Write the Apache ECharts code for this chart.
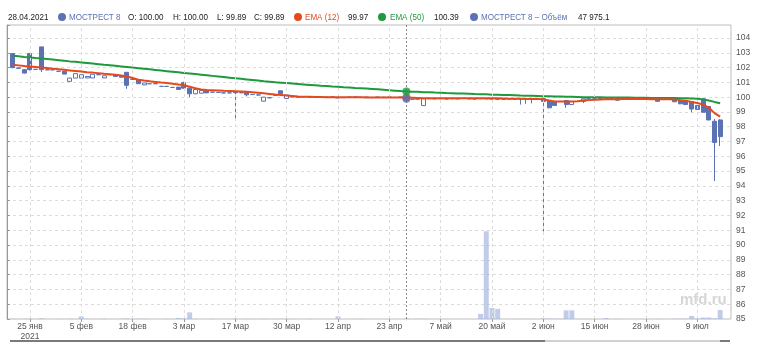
<!DOCTYPE html>
<html><head><meta charset="utf-8">
<script src="https://cdn.jsdelivr.net/npm/echarts@6/dist/echarts.min.js"></script>
<style>html,body{margin:0;padding:0;background:#fff}#c{width:761px;height:352px}</style>
</head><body><div id="c"></div>
<script>
const categories = [
 '20.01','21.01','22.01','25.01','26.01','27.01','28.01','29.01',
 '01.02','02.02','03.02','04.02','05.02','08.02','09.02','10.02','11.02','12.02','15.02','16.02','17.02','18.02','19.02','20.02','22.02','24.02','25.02','26.02',
 '01.03','02.03','03.03','04.03','05.03','09.03','10.03','11.03','12.03','15.03','16.03','17.03','18.03','19.03','22.03','23.03','24.03','25.03','26.03','29.03','30.03','31.03',
 '01.04','02.04','05.04','06.04','07.04','08.04','09.04','12.04','13.04','14.04','15.04','16.04','19.04','20.04','21.04','22.04','23.04','26.04','27.04','28.04','29.04','30.04',
 '04.05','05.05','06.05','07.05','10.05','11.05','12.05','13.05','14.05','17.05','18.05','19.05','20.05','21.05','24.05','25.05','26.05','27.05','28.05','31.05',
 '01.06','02.06','03.06','04.06','07.06','08.06','09.06','10.06','11.06','14.06','15.06','16.06','17.06','18.06','21.06','22.06','23.06','24.06','25.06','28.06','29.06','30.06',
 '01.07','02.07','05.07','06.07','07.07','08.07','09.07','12.07','13.07','14.07','15.07'
];
const tickLabels = ['25.01','05.02','18.02','03.03','17.03','30.03','12.04','23.04','07.05','20.05','02.06','15.06','28.06','09.07'];
const monthNames = ['янв','фев','мар','апр','май','июн','июл','авг','сен','окт','ноя','дек'];
const yTicks = [85,86,87,88,89,90,91,92,93,94,95,96,97,98,99,100,101,102,103,104];

const open = [
 102.95,101.95,101.86,102.95,101.88,103.40,101.85,101.85,101.75,101.75,
 101.07,101.29,101.29,101.30,101.30,101.52,101.30,101.52,101.52,101.45,
 101.68,101.20,101.18,100.83,100.91,100.91,100.73,100.73,100.66,100.68,
 100.98,100.61,100.23,100.27,100.43,100.34,100.32,100.29,100.29,100.34,
 100.30,100.32,100.18,100.15,99.73,99.96,100.12,100.43,99.91,100.02,
 100.00,100.03,100.00,100.01,99.98,100.00,100.02,99.96,99.97,100.00,
 100.01,99.99,100.00,99.98,100.00,99.99,100.00,99.98,100.00,100.00,
 99.86,99.92,99.43,99.90,99.89,99.90,99.88,99.90,99.89,99.91,
 99.89,99.88,99.90,99.89,99.88,99.86,99.86,99.88,99.87,99.88,
 99.87,99.86,99.87,99.89,99.78,99.71,99.71,99.78,99.50,99.71,
 99.71,99.89,99.88,99.90,99.89,99.88,99.90,99.88,99.89,99.90,
 99.88,99.89,99.88,99.89,99.86,99.87,99.86,99.78,99.78,99.71,
 99.44,99.89,99.37,98.37,98.46
];
const close = [
 102.00,101.98,101.63,101.86,101.88,101.86,101.85,101.85,101.75,101.56,
 101.29,101.59,101.52,101.40,101.55,101.52,101.45,101.52,101.40,101.35,
 100.80,101.20,100.91,100.96,100.91,100.91,100.73,100.73,100.66,100.52,
 100.61,100.23,100.52,100.45,100.29,100.34,100.32,100.29,100.29,100.30,
 100.30,100.16,100.18,100.15,100.00,99.96,100.12,100.23,100.16,100.02,
 100.00,100.03,100.00,100.01,99.98,100.00,100.02,99.96,99.97,100.00,
 100.01,99.99,100.00,99.98,100.00,99.99,100.00,99.98,100.00,99.89,
 99.86,99.86,99.89,99.90,99.89,99.90,99.88,99.90,99.89,99.91,
 99.89,99.88,99.90,99.89,99.88,99.86,99.86,99.88,99.87,99.88,
 99.87,99.86,99.87,99.71,99.28,99.44,99.71,99.50,99.71,99.71,
 99.89,99.89,99.88,99.90,99.89,99.88,99.80,99.88,99.89,99.90,
 99.88,99.89,99.88,99.72,99.86,99.87,99.69,99.55,99.50,99.20,
 99.17,98.98,98.46,96.94,97.33
];
const low = [
 101.95,101.93,101.60,101.80,101.85,101.70,101.83,101.83,101.72,101.55,
 101.05,101.28,101.28,101.29,101.29,101.50,101.29,101.50,101.38,101.33,
 100.57,101.18,100.90,100.82,100.89,100.89,100.71,100.71,100.64,100.50,
 100.58,100.00,100.20,100.26,100.28,100.32,100.30,100.27,100.27,98.41,
 100.28,100.05,100.16,100.10,99.72,99.94,100.10,100.22,99.90,100.00,
 99.98,100.01,99.98,99.99,99.96,99.98,100.00,99.94,99.95,99.98,
 99.99,99.97,99.98,99.96,99.98,99.97,99.98,99.96,99.98,99.89,
 99.84,99.84,99.42,99.88,99.87,99.88,99.86,99.88,99.87,99.89,
 99.87,99.86,99.88,99.87,99.86,99.84,99.84,99.86,99.85,99.50,
 99.55,99.58,99.85,90.92,99.25,99.42,99.69,99.28,99.48,99.69,
 99.60,99.87,99.86,99.88,99.87,99.86,99.78,99.86,99.87,99.88,
 99.86,99.87,99.86,99.70,99.84,99.85,99.67,99.53,99.48,98.98,
 99.15,98.96,98.44,94.33,96.70
];
const high = [
 102.95,102.00,101.88,102.95,101.90,103.40,101.87,101.87,101.77,101.76,
 101.30,101.60,101.53,101.41,101.56,101.54,101.46,101.53,101.53,101.46,
 101.70,101.22,101.19,100.97,100.92,100.92,100.74,100.74,100.67,100.69,
 101.05,100.62,100.53,100.46,100.44,100.35,100.33,100.30,100.30,100.35,
 100.31,100.33,100.19,100.17,100.01,99.97,100.13,100.44,100.17,100.03,
 100.01,100.04,100.01,100.02,99.99,100.01,100.03,99.97,99.98,100.01,
 100.02,100.00,100.01,99.99,100.01,100.00,100.01,99.99,100.01,100.00,
 99.87,99.93,99.90,99.91,99.90,99.91,99.89,99.91,99.90,99.92,
 99.90,99.89,99.91,99.90,99.89,99.87,99.87,99.89,99.88,99.89,
 99.88,99.87,99.88,99.90,99.80,99.72,99.72,99.79,99.72,99.72,
 99.90,99.90,99.89,99.91,99.90,99.89,99.91,99.89,99.90,99.91,
 99.89,99.90,99.89,99.90,99.87,99.88,99.87,99.79,99.79,99.72,
 99.45,99.90,99.38,98.53,98.50
];
const ema12 = [
 102.20,102.15,102.10,102.08,102.04,102.00,101.97,101.93,101.89,101.85,
 101.81,101.77,101.73,101.69,101.66,101.62,101.58,101.55,101.51,101.47,
 101.40,101.30,101.18,101.12,101.07,101.03,100.99,100.96,100.91,100.86,
 100.80,100.70,100.60,100.52,100.49,100.47,100.45,100.43,100.42,100.40,
 100.38,100.36,100.34,100.30,100.26,100.22,100.18,100.15,100.11,100.08,
 100.05,100.03,100.02,100.01,100.01,100.00,100.00,100.00,99.99,99.99,
 99.99,99.99,99.98,99.98,99.98,99.98,99.98,99.97,99.97,99.97,
 99.96,99.95,99.93,99.93,99.92,99.92,99.92,99.92,99.92,99.92,
 99.92,99.92,99.92,99.92,99.92,99.92,99.91,99.90,99.90,99.89,
 99.88,99.88,99.87,99.86,99.78,99.71,99.71,99.70,99.70,99.73,
 99.77,99.80,99.83,99.85,99.86,99.86,99.86,99.87,99.87,99.87,
 99.87,99.87,99.86,99.86,99.86,99.86,99.84,99.80,99.76,99.68,
 99.60,99.50,99.30,98.92,98.69
];
const ema50 = [
 102.80,102.76,102.72,102.69,102.65,102.62,102.58,102.54,102.50,102.46,
 102.42,102.39,102.35,102.31,102.27,102.23,102.19,102.16,102.12,102.08,
 102.04,102.00,101.96,101.92,101.88,101.84,101.80,101.76,101.72,101.68,
 101.64,101.60,101.56,101.52,101.48,101.44,101.40,101.36,101.32,101.28,
 101.24,101.20,101.16,101.12,101.08,101.05,101.01,100.98,100.95,100.92,
 100.89,100.86,100.83,100.80,100.77,100.75,100.72,100.70,100.67,100.65,
 100.62,100.60,100.58,100.56,100.53,100.50,100.47,100.44,100.41,100.39,
 100.37,100.36,100.34,100.33,100.31,100.30,100.28,100.27,100.25,100.24,
 100.23,100.21,100.20,100.19,100.17,100.16,100.15,100.14,100.13,100.11,
 100.10,100.09,100.08,100.07,100.06,100.05,100.04,100.03,100.02,100.01,
 100.00,100.00,99.99,99.99,99.98,99.98,99.97,99.97,99.97,99.96,
 99.96,99.96,99.95,99.95,99.95,99.94,99.94,99.93,99.92,99.91,
 99.89,99.85,99.78,99.68,99.59
];
const volume = [
 30000,0,20000,40000,0,60000,0,0,20000,0,
 30000,0,270000,20000,0,0,40000,0,0,20000,
 50000,0,30000,20000,0,0,0,20000,0,100000,
 60000,680000,20000,0,0,20000,0,0,0,40000,
 0,20000,0,0,30000,0,0,20000,30000,0,
 0,0,20000,0,0,0,0,270000,0,0,
 0,20000,0,0,0,0,0,0,0,47975.1,
 0,20000,30000,0,0,0,0,0,0,0,
 0,0,520000,8950000,1130000,1030000,0,0,0,20000,
 20000,20000,0,60000,40000,30000,20000,880000,880000,0,
 20000,0,0,0,100000,0,20000,0,0,0,
 0,0,0,20000,0,0,30000,20000,30000,310000,
 40000,150000,150000,60000,920000
];
const crossDate = '28.04';

const FONT = '"Liberation Sans",Arial,sans-serif';
const BLUE = '#5b72b4', RED = '#e64a1c', GREEN = '#1c9a3c';
const ci = categories.indexOf(crossDate);
const fmt2 = v => v.toFixed(2);
const fmtVol = v => { const s = v.toFixed(1); const [a,b] = s.split('.'); return a.replace(/\B(?=(\d{3})+(?!\d))/g,' ') + '.' + b; };

const candleData = categories.map((c,i)=>[open[i],close[i],low[i],high[i]]);
const isTick = (idx, val) => tickLabels.indexOf(categories[idx]) >= 0;
const firstTickIdx = categories.indexOf(tickLabels[0]);

const legendItems = [
 {x:8, text:'28.04.2021', fill:'#222'},
 {dot:BLUE, cx:62},
 {x:69, text:'МОСТРЕСТ 8', fill:BLUE},
 {x:128, text:'O: ' + fmt2(open[ci]), fill:'#222'},
 {x:173, text:'H: ' + fmt2(high[ci]), fill:'#222'},
 {x:217, text:'L: ' + fmt2(low[ci]), fill:'#222'},
 {x:254, text:'C: ' + fmt2(close[ci]), fill:'#222'},
 {dot:RED, cx:298},
 {x:305, text:'EMA (12)', fill:RED},
 {x:348, text:fmt2(ema12[ci]), fill:'#222'},
 {dot:GREEN, cx:382},
 {x:390, text:'EMA (50)', fill:GREEN},
 {x:434, text:fmt2(ema50[ci]), fill:'#222'},
 {dot:BLUE, cx:474},
 {x:481, text:'МОСТРЕСТ 8 – Объём', fill:BLUE},
 {x:578, text:fmtVol(volume[ci]), fill:'#222'}
];
const graphics = legendItems.map(it => it.dot
 ? {type:'circle', shape:{cx:it.cx, cy:17, r:4}, style:{fill:it.dot}}
 : {type:'text', x:it.x, y:17, scaleX:0.85, style:{text:it.text, fill:it.fill, font:'9.5px '+FONT, verticalAlign:'middle'}});
graphics.push({type:'text', x:680, y:300, style:{text:'mfd.ru', fill:'#d6d6d6', font:'bold 15px '+FONT, verticalAlign:'middle'}});
graphics.push({type:'rect', shape:{x:10, y:340, width:535, height:2}, style:{fill:'#7a7a7a'}});
graphics.push({type:'rect', shape:{x:545, y:340, width:175, height:2}, style:{fill:'#d0d0d0'}});
graphics.push({type:'rect', shape:{x:720, y:340, width:10, height:2}, style:{fill:'#7a7a7a'}});

const chart = echarts.init(document.getElementById('c'));
chart.setOption({
 animation:false,
 backgroundColor:'#fff',
 textStyle:{fontFamily:FONT},
 grid:[
  {left:10, right:38, top:25, bottom:33},
  {left:7, right:30, top:25, bottom:33, show:true, borderColor:'#bdbdbd', borderWidth:1, backgroundColor:'transparent'}
 ],
 xAxis:[
  {type:'category', gridIndex:0, data:categories, boundaryGap:true,
   axisLine:{show:false},
   axisTick:{show:true, alignWithLabel:true, interval:isTick, length:3, lineStyle:{color:'#999'}},
   axisLabel:{interval:isTick, color:'#555', fontSize:8.5, margin:3, lineHeight:10,
     formatter:(val, idx)=>{ const p = val.split('.'); let s = parseInt(p[0],10)+' '+monthNames[parseInt(p[1],10)-1]; if (idx===firstTickIdx) s += '\n2021'; return s; }},
   splitLine:{show:false}},
  {type:'value', gridIndex:1, min:0, max:1, show:false}
 ],
 yAxis:[
  {type:'value', gridIndex:0, min:85, max:104.88, show:false},
  {type:'value', gridIndex:0, min:0, max:30000000, show:false},
  {type:'value', gridIndex:1, min:85, max:104.88, interval:1, position:'right',
   axisLine:{show:true, lineStyle:{color:'#999'}},
   axisTick:{show:true, length:3, lineStyle:{color:'#999'}},
   axisLabel:{color:'#555', fontSize:8.5, margin:5, customValues: yTicks},
   splitLine:{show:true, lineStyle:{color:'#dcdcdc', type:[3,3]}}}
 ],
 series:[
  {type:'bar', name:'vol', xAxisIndex:0, yAxisIndex:1, data:volume, barWidth:5, z:1,
   itemStyle:{color:'rgba(160,178,220,0.65)'},
   markLine:{silent:true, symbol:['none','none'], label:{show:false},
     lineStyle:{color:'#dcdcdc', type:[3,3], width:1},
     data: tickLabels.map(t=>({xAxis:t}))}},
  {type:'candlestick', xAxisIndex:0, yAxisIndex:0, data:candleData, barWidth:4.5, z:3,
   itemStyle:{color:'#ffffff', color0:BLUE, borderColor:BLUE, borderColor0:BLUE, borderWidth:1},
   markLine:{silent:true, symbol:['none','none'], label:{show:false},
     lineStyle:{color:'#8a8a8a', type:[2,2], width:1},
     data:[{xAxis:crossDate}]}},
  {type:'line', xAxisIndex:0, yAxisIndex:0, data:ema50, showSymbol:false, z:4,
   lineStyle:{color:GREEN, width:2}},
  {type:'line', xAxisIndex:0, yAxisIndex:0, data:ema12, showSymbol:false, z:5,
   lineStyle:{color:RED, width:2}},
  {type:'scatter', xAxisIndex:0, yAxisIndex:0, z:6, symbolSize:8,
   data:[{value:[crossDate, ema12[ci]], itemStyle:{color:RED}},
         {value:[crossDate, ema50[ci]], itemStyle:{color:GREEN}},
         {value:[crossDate, close[ci]], itemStyle:{color:BLUE}}]}
 ],
 graphic:graphics
});
</script>
</body></html>
